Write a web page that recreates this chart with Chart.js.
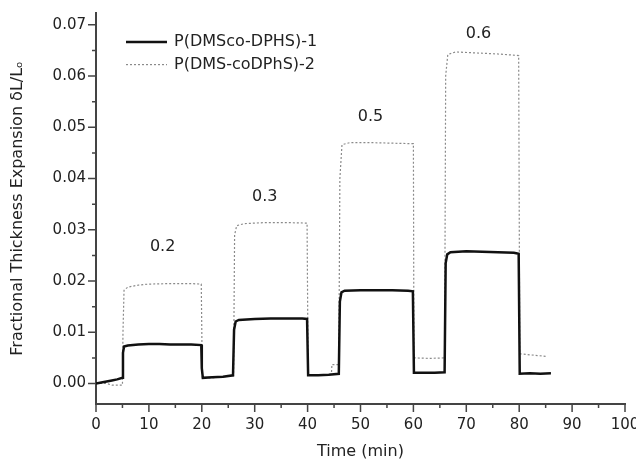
<!DOCTYPE html>
<html>
<head>
<meta charset="utf-8">
<script src="https://cdn.jsdelivr.net/npm/chart.js@4.4.1/dist/chart.umd.min.js"></script>
<style>
  html, body { margin: 0; padding: 0; background: #fff; }
</style>
</head>
<body>
<canvas id="swelling" width="636" height="461"></canvas>
<script>
// two copolymer films, stepwise vapour exposure
const seriesNames = ["P(DMSco-DPHS)-1", "P(DMS-coDPhS)-2"];

const time1 = [0, 1, 2, 3, 4, 5, 5.1, 5.3, 6, 8, 10, 12, 14, 16, 18, 19.9,
  20.0, 20.2, 22, 24, 25.9, 26.1, 26.4, 27, 30, 33, 36, 39, 39.9,
  40.1, 42, 44, 45.9, 46.1, 46.4, 47, 50, 53, 56, 59, 59.9,
  60.1, 62, 64, 65.9, 66.1, 66.4, 67, 70, 73, 76, 79, 79.9,
  80.1, 82, 84, 86];
const expansion1 = [0.0000, 0.0002, 0.0004, 0.0006, 0.0008, 0.0011, 0.0060, 0.0072, 0.0074, 0.0076, 0.0077, 0.0077, 0.0076, 0.0076, 0.0076, 0.0075,
  0.0030, 0.0011, 0.0012, 0.0013, 0.0016, 0.0105, 0.0121, 0.0124, 0.0126, 0.0127, 0.0127, 0.0127, 0.0126,
  0.0016, 0.0016, 0.0017, 0.0019, 0.0160, 0.0178, 0.0181, 0.0182, 0.0182, 0.0182, 0.0181, 0.0180,
  0.0021, 0.0021, 0.0021, 0.0022, 0.0235, 0.0252, 0.0256, 0.0258, 0.0257, 0.0256, 0.0255, 0.0253,
  0.0019, 0.0020, 0.0019, 0.0020];

const time2 = [0, 2, 3, 5.0, 5.1, 5.3, 6, 8, 10, 14, 18, 19.9,
  20.1, 22, 24, 26.0, 26.2, 26.6, 28, 32, 36, 39.9,
  40.1, 42, 44.5, 44.6, 45.9, 46.1, 46.5, 48, 52, 56, 60.0,
  60.1, 63, 65.9, 66.1, 66.5, 68, 72, 76, 79.9,
  80.1, 82, 85];
const expansion2 = [0.0000, 0.0000, -0.0003, -0.0003, 0.0100, 0.0182, 0.0188, 0.0192, 0.0194, 0.0195, 0.0195, 0.0194,
  0.0011, 0.0011, 0.0013, 0.0015, 0.0290, 0.0308, 0.0312, 0.0314, 0.0314, 0.0313,
  0.0016, 0.0016, 0.0018, 0.0037, 0.0037, 0.0400, 0.0466, 0.0470, 0.0470, 0.0469, 0.0468,
  0.0050, 0.0049, 0.0050, 0.0600, 0.0642, 0.0647, 0.0645, 0.0643, 0.0640,
  0.0058, 0.0056, 0.0053];

// vapour activity for each step, placed above the step
const stepLabels = ["0.2", "0.3", "0.5", "0.6"];
const stepLabelTime = [12.6, 31.9, 51.9, 72.3];
const stepLabelValue = [0.0267, 0.0365, 0.052, 0.0682];

const xMajor = [0, 10, 20, 30, 40, 50, 60, 70, 80, 90, 100];
const xMinor = [5, 15, 25, 35, 45, 55, 65, 75, 85, 95];
const yMajor = [0.00, 0.01, 0.02, 0.03, 0.04, 0.05, 0.06, 0.07];
const yMinor = [0.005, 0.015, 0.025, 0.035, 0.045, 0.055, 0.065];

const FONT = "'DejaVu Sans', sans-serif";
const INK = "#222";
const AXIS = "#444";

function toPoints(ts, vs) {
  return ts.map((t, i) => ({ x: t, y: vs[i] }));
}

// outward major/minor tick marks
const axisTicks = {
  id: "axisTicks",
  afterDraw(chart) {
    const { ctx, chartArea, scales } = chart;
    const x = scales.x, y = scales.y;
    ctx.save();
    ctx.strokeStyle = AXIS;
    ctx.lineWidth = 1.5;
    ctx.beginPath();
    xMajor.forEach(v => { const p = x.getPixelForValue(v); ctx.moveTo(p, chartArea.bottom); ctx.lineTo(p, chartArea.bottom + 8); });
    xMinor.forEach(v => { const p = x.getPixelForValue(v); ctx.moveTo(p, chartArea.bottom); ctx.lineTo(p, chartArea.bottom + 4); });
    yMajor.forEach(v => { const p = y.getPixelForValue(v); ctx.moveTo(chartArea.left, p); ctx.lineTo(chartArea.left - 8, p); });
    yMinor.forEach(v => { const p = y.getPixelForValue(v); ctx.moveTo(chartArea.left, p); ctx.lineTo(chartArea.left - 4, p); });
    ctx.stroke();
    ctx.restore();
  }
};

// step labels
const stepText = {
  id: "stepText",
  afterDatasetsDraw(chart) {
    const { ctx, scales } = chart;
    ctx.save();
    ctx.font = "16px " + FONT;
    ctx.fillStyle = INK;
    ctx.textAlign = "center";
    ctx.textBaseline = "middle";
    stepLabels.forEach((s, i) => {
      ctx.fillText(s, scales.x.getPixelForValue(stepLabelTime[i]), scales.y.getPixelForValue(stepLabelValue[i]));
    });
    ctx.restore();
  }
};

// legend inside the plot, top left
const insetLegend = {
  id: "insetLegend",
  afterDatasetsDraw(chart) {
    const { ctx, chartArea } = chart;
    ctx.save();
    ctx.font = "16px " + FONT;
    ctx.textBaseline = "middle";
    chart.data.datasets.forEach((ds, i) => {
      const yy = chartArea.top + 29 + i * 22.6;
      const x0 = chartArea.left + 30;
      ctx.strokeStyle = ds.borderColor;
      ctx.lineWidth = ds.borderWidth;
      ctx.setLineDash(ds.borderDash || []);
      ctx.beginPath();
      ctx.moveTo(x0, yy);
      ctx.lineTo(x0 + 41, yy);
      ctx.stroke();
      ctx.setLineDash([]);
      ctx.fillStyle = INK;
      ctx.fillText(ds.label, x0 + 48, yy);
    });
    ctx.restore();
  }
};

new Chart(document.getElementById("swelling"), {
  type: "line",
  plugins: [axisTicks, stepText, insetLegend],
  data: {
    datasets: [
      {
        label: seriesNames[0],
        data: toPoints(time1, expansion1),
        borderColor: "#111",
        borderWidth: 2.5,
        pointRadius: 0,
        tension: 0,
        order: 1
      },
      {
        label: seriesNames[1],
        data: toPoints(time2, expansion2),
        borderColor: "#8a8a8a",
        borderWidth: 1.2,
        borderDash: [2, 2],
        pointRadius: 0,
        tension: 0,
        order: 2
      }
    ]
  },
  options: {
    responsive: false,
    animation: false,
    layout: { padding: { top: 13, right: 11, left: 0, bottom: 0 } },
    plugins: {
      legend: { display: false },
      tooltip: { enabled: false }
    },
    scales: {
      x: {
        type: "linear",
        min: 0,
        max: 100,
        grid: { display: false },
        border: { display: true, color: AXIS, width: 2 },
        afterBuildTicks(scale) { scale.ticks = xMajor.map(v => ({ value: v })); },
        afterFit(scale) { scale.height = 57; scale.paddingRight = 0; scale.paddingLeft = 0; },
        ticks: {
          color: INK,
          font: { family: FONT, size: 15 },
          padding: 4,
          maxRotation: 0,
          callback: v => String(v)
        },
        title: {
          display: true,
          text: "Time (min)",
          color: INK,
          font: { family: FONT, size: 16 },
          padding: { top: 0, bottom: 0 }
        }
      },
      y: {
        type: "linear",
        min: -0.004,
        max: 0.0723,
        grid: { display: false },
        border: { display: true, color: AXIS, width: 2 },
        afterBuildTicks(scale) { scale.ticks = yMajor.map(v => ({ value: v })); },
        afterFit(scale) { scale.width = 96; scale.paddingTop = 0; scale.paddingBottom = 0; },
        ticks: {
          color: INK,
          font: { family: FONT, size: 15 },
          padding: 2,
          callback: v => v.toFixed(2)
        },
        title: {
          display: true,
          text: "Fractional Thickness Expansion \u03B4L/L\u2092",
          color: INK,
          font: { family: FONT, size: 16 },
          padding: { top: 8, bottom: 0 }
        }
      }
    }
  }
});
</script>
</body>
</html>
